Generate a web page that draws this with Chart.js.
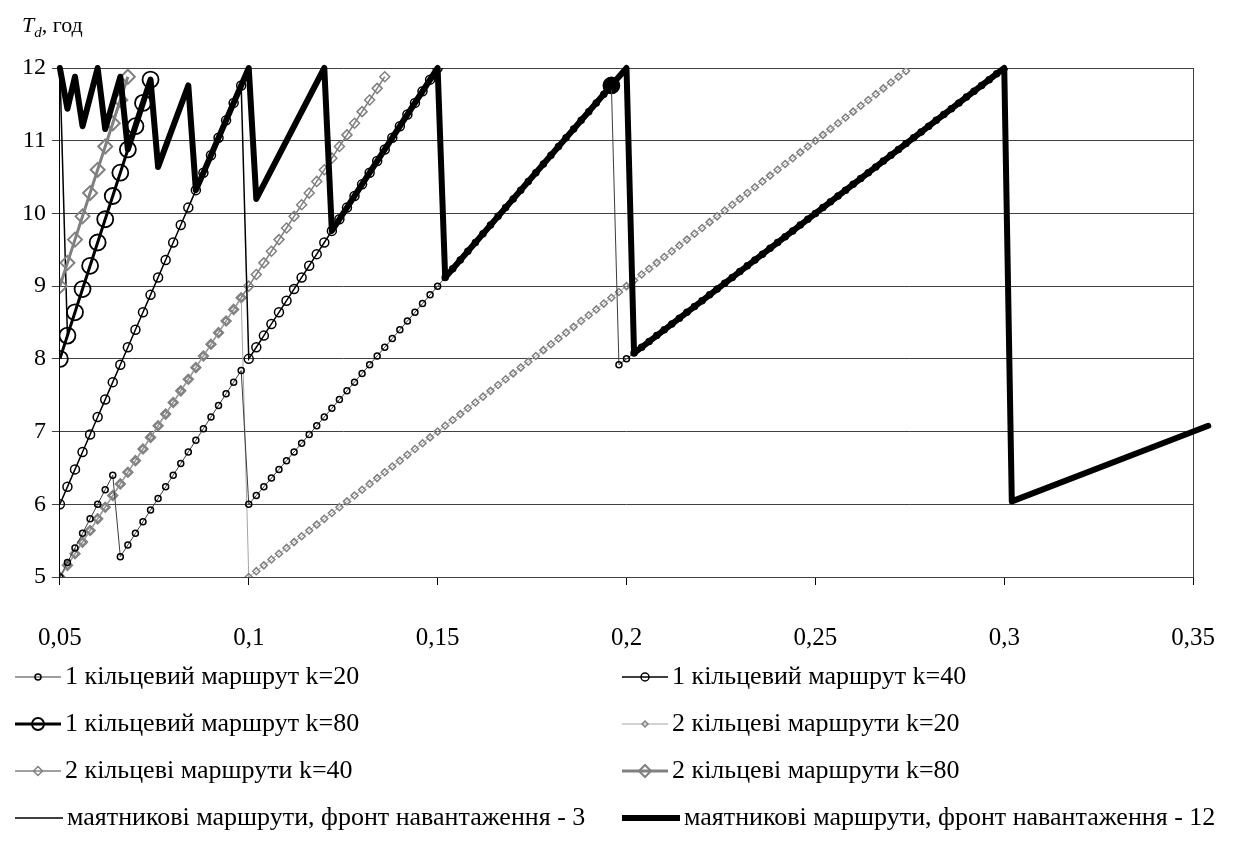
<!DOCTYPE html>
<html lang="uk">
<head>
    <meta charset="UTF-8">
    <title>T_d, год</title>
    <script src="https://cdn.jsdelivr.net/npm/chart.js"></script>
    <style>
        body { margin: 0; background: #fff; }
        #wrap { position: relative; width: 1253px; height: 866px; }
        #ytitle {
            position: absolute; left: 22px; top: 12px;
            font-family: 'Liberation Serif', 'Times New Roman', serif;
            font-size: 22px; color: #000;
        }
        #ytitle sub { font-size: 15px; }
    </style>
</head>
<body>
<div id="wrap">
    <div id="ytitle"><i>T</i><sub><i>d</i></sub>, год</div>
    <canvas id="chart" width="1253" height="866"></canvas>
</div>
<script>
// ---- дані, зчитані з рисунку: [x, Td] ----
const yTicks = [5, 6, 7, 8, 9, 10, 11, 12];
const xTicks = [0.05, 0.1, 0.15, 0.2, 0.25, 0.3, 0.35];

// 1 кільцевий маршрут k=20
const ring1k20 = [
    [.050,5.00],[.052,5.20],[.054,5.40],[.056,5.60],[.058,5.80],[.060,6.00],[.062,6.20],[.064,6.40],
    [.066,5.28],[.068,5.44],[.070,5.60],[.072,5.76],[.074,5.92],[.076,6.08],[.078,6.24],[.080,6.40],
    [.082,6.56],[.084,6.72],[.086,6.88],[.088,7.04],[.090,7.20],[.092,7.36],[.094,7.52],[.096,7.68],[.098,7.84],
    [.100,6.00],[.102,6.12],[.104,6.24],[.106,6.36],[.108,6.48],[.110,6.60],[.112,6.72],[.114,6.84],
    [.116,6.96],[.118,7.08],[.120,7.20],[.122,7.32],[.124,7.44],[.126,7.56],[.128,7.68],[.130,7.80],
    [.132,7.92],[.134,8.04],[.136,8.16],[.138,8.28],[.140,8.40],[.142,8.52],[.144,8.64],[.146,8.76],
    [.148,8.88],[.150,9.00],[.152,9.12],[.154,9.24],[.156,9.36],[.158,9.48],[.160,9.60],[.162,9.72],
    [.164,9.84],[.166,9.96],[.168,10.08],[.170,10.20],[.172,10.32],[.174,10.44],[.176,10.56],[.178,10.68],
    [.180,10.80],[.182,10.92],[.184,11.04],[.186,11.16],[.188,11.28],[.190,11.40],[.192,11.52],[.194,11.64],[.196,11.76],
    [.198,7.92],[.200,8.00],[.202,8.08],[.204,8.16],[.206,8.24],[.208,8.32],[.210,8.40],[.212,8.48],
    [.214,8.56],[.216,8.64],[.218,8.72],[.220,8.80],[.222,8.88],[.224,8.96],[.226,9.04],[.228,9.12],
    [.230,9.20],[.232,9.28],[.234,9.36],[.236,9.44],[.238,9.52],[.240,9.60],[.242,9.68],[.244,9.76],
    [.246,9.84],[.248,9.92],[.250,10.00],[.252,10.08],[.254,10.16],[.256,10.24],[.258,10.32],[.260,10.40],
    [.262,10.48],[.264,10.56],[.266,10.64],[.268,10.72],[.270,10.80],[.272,10.88],[.274,10.96],[.276,11.04],
    [.278,11.12],[.280,11.20],[.282,11.28],[.284,11.36],[.286,11.44],[.288,11.52],[.290,11.60],[.292,11.68],
    [.294,11.76],[.296,11.84],[.298,11.92],[.300,12.00]
];

// 1 кільцевий маршрут k=40
const ring1k40 = [
    [.050,6.00],[.052,6.24],[.054,6.48],[.056,6.72],[.058,6.96],[.060,7.20],[.062,7.44],[.064,7.68],
    [.066,7.92],[.068,8.16],[.070,8.40],[.072,8.64],[.074,8.88],[.076,9.12],[.078,9.36],[.080,9.60],
    [.082,9.84],[.084,10.08],[.086,10.32],[.088,10.56],[.090,10.80],[.092,11.04],[.094,11.28],[.096,11.52],[.098,11.76],
    [.100,8.00],[.102,8.16],[.104,8.32],[.106,8.48],[.108,8.64],[.110,8.80],[.112,8.96],[.114,9.12],
    [.116,9.28],[.118,9.44],[.120,9.60],[.122,9.76],[.124,9.92],[.126,10.08],[.128,10.24],[.130,10.40],
    [.132,10.56],[.134,10.72],[.136,10.88],[.138,11.04],[.140,11.20],[.142,11.36],[.144,11.52],[.146,11.68],
    [.148,11.84],[.150,12.00]
];

// 1 кільцевий маршрут k=80
const ring1k80 = [
    [.050,8.00],[.052,8.32],[.054,8.64],[.056,8.96],[.058,9.28],[.060,9.60],[.062,9.92],[.064,10.24],
    [.066,10.56],[.068,10.88],[.070,11.20],[.072,11.52],[.074,11.84],
    [.150,null],[.196,11.76]
];

// 2 кільцеві маршрути k=20
const ring2k20 = [
    [.050,5.00],[.052,5.16],[.054,5.32],[.056,5.48],[.058,5.64],[.060,5.80],[.062,5.96],[.064,6.12],
    [.066,6.28],[.068,6.44],[.070,6.60],[.072,6.76],[.074,6.92],[.076,7.08],[.078,7.24],[.080,7.40],
    [.082,7.56],[.084,7.72],[.086,7.88],[.088,8.04],[.090,8.20],[.092,8.36],[.094,8.52],[.096,8.68],[.098,8.84],
    [.100,5.00],[.102,5.08],[.104,5.16],[.106,5.24],[.108,5.32],[.110,5.40],[.112,5.48],[.114,5.56],
    [.116,5.64],[.118,5.72],[.120,5.80],[.122,5.88],[.124,5.96],[.126,6.04],[.128,6.12],[.130,6.20],
    [.132,6.28],[.134,6.36],[.136,6.44],[.138,6.52],[.140,6.60],[.142,6.68],[.144,6.76],[.146,6.84],
    [.148,6.92],[.150,7.00],[.152,7.08],[.154,7.16],[.156,7.24],[.158,7.32],[.160,7.40],[.162,7.48],
    [.164,7.56],[.166,7.64],[.168,7.72],[.170,7.80],[.172,7.88],[.174,7.96],[.176,8.04],[.178,8.12],
    [.180,8.20],[.182,8.28],[.184,8.36],[.186,8.44],[.188,8.52],[.190,8.60],[.192,8.68],[.194,8.76],
    [.196,8.84],[.198,8.92],[.200,9.00],[.202,9.08],[.204,9.16],[.206,9.24],[.208,9.32],[.210,9.40],
    [.212,9.48],[.214,9.56],[.216,9.64],[.218,9.72],[.220,9.80],[.222,9.88],[.224,9.96],[.226,10.04],
    [.228,10.12],[.230,10.20],[.232,10.28],[.234,10.36],[.236,10.44],[.238,10.52],[.240,10.60],[.242,10.68],
    [.244,10.76],[.246,10.84],[.248,10.92],[.250,11.00],[.252,11.08],[.254,11.16],[.256,11.24],[.258,11.32],
    [.260,11.40],[.262,11.48],[.264,11.56],[.266,11.64],[.268,11.72],[.270,11.80],[.272,11.88],[.274,11.96]
];

// 2 кільцеві маршрути k=40
const ring2k40 = [
    [.050,5.00],[.052,5.16],[.054,5.32],[.056,5.48],[.058,5.64],[.060,5.80],[.062,5.96],[.064,6.12],
    [.066,6.28],[.068,6.44],[.070,6.60],[.072,6.76],[.074,6.92],[.076,7.08],[.078,7.24],[.080,7.40],
    [.082,7.56],[.084,7.72],[.086,7.88],[.088,8.04],[.090,8.20],[.092,8.36],[.094,8.52],[.096,8.68],
    [.098,8.84],[.100,9.00],[.102,9.16],[.104,9.32],[.106,9.48],[.108,9.64],[.110,9.80],[.112,9.96],
    [.114,10.12],[.116,10.28],[.118,10.44],[.120,10.60],[.122,10.76],[.124,10.92],[.126,11.08],[.128,11.24],
    [.130,11.40],[.132,11.56],[.134,11.72],[.136,11.88]
];

// 2 кільцеві маршрути k=80
const ring2k80 = [
    [.050,9.00],[.052,9.32],[.054,9.64],[.056,9.96],[.058,10.28],[.060,10.60],[.062,10.92],[.064,11.24],
    [.066,11.56],[.068,11.88]
];

// маятникові маршрути, фронт навантаження - 3
const pend3 = [
    [.050,12.00],[.052,8.32]
];

// маятникові маршрути, фронт навантаження - 12
const pend12 = [
    [.050,12.00],[.052,11.44],[.054,11.88],[.056,11.20],[.060,12.00],[.062,11.16],[.066,11.88],[.068,10.88],
    [.074,11.84],[.076,10.64],[.084,11.76],[.086,10.32],[.100,12.00],[.102,10.20],[.120,12.00],[.122,9.76],
    [.150,12.00],[.152,9.12],[.200,12.00],[.202,8.08],[.300,12.00],[.302,6.04],[.354,7.08]
];

const FONT = "'Liberation Serif', 'Times New Roman', serif";

// легенда у два стовпці під графіком
const twoColLegend = {
    id: 'twoColLegend',
    afterDraw(chart) {
        const ctx = chart.ctx;
        const cols = [15, 622];
        const rows = [677, 724, 771, 818];
        chart.data.datasets.forEach((ds, i) => {
            const x0 = cols[i % 2];
            const y = rows[Math.floor(i / 2)];
            const len = ds.legendLen || 46;
            ctx.save();
            ctx.strokeStyle = ds.borderColor;
            ctx.lineWidth = ds.borderWidth;
            ctx.lineCap = 'butt';
            ctx.beginPath();
            ctx.moveTo(x0, y);
            ctx.lineTo(x0 + len, y);
            ctx.stroke();
            if (ds.pointRadius > 0) {
                ctx.fillStyle = 'rgba(0,0,0,0)';
                ctx.strokeStyle = ds.pointBorderColor;
                ctx.lineWidth = ds.pointBorderWidth;
                Chart.helpers.drawPoint(ctx, {
                    pointStyle: ds.pointStyle, radius: ds.legendRadius,
                    borderWidth: ds.pointBorderWidth, rotation: 0
                }, x0 + len / 2, y);
            }
            ctx.fillStyle = '#000';
            ctx.font = '26px ' + FONT;
            ctx.textBaseline = 'middle';
            ctx.textAlign = 'left';
            ctx.fillText(ds.label, x0 + len + 4, y);
            ctx.restore();
        });
    }
};

const ctx = document.getElementById('chart').getContext('2d');
new Chart(ctx, {
    type: 'line',
    data: {
        datasets: [
            {
                label: '1 кільцевий маршрут k=20', data: ring1k20,
                borderColor: '#3c3c3c', borderWidth: 1,
                pointStyle: 'circle', pointRadius: 3, pointBorderWidth: 1.5,
                pointBorderColor: '#000', pointBackgroundColor: 'rgba(0,0,0,0)', legendRadius: 3
            },
            {
                label: '1 кільцевий маршрут k=40', data: ring1k40,
                borderColor: '#000', borderWidth: 1.5,
                pointStyle: 'circle', pointRadius: 4.5, pointBorderWidth: 1.5,
                pointBorderColor: '#000', pointBackgroundColor: 'rgba(0,0,0,0)', legendRadius: 4
            },
            {
                label: '1 кільцевий маршрут k=80', data: ring1k80,
                borderColor: '#000', borderWidth: 3,
                pointStyle: 'circle', pointRadius: 8, pointBorderWidth: 1.8,
                pointBorderColor: '#000',
                pointBackgroundColor: c => (c.raw && c.raw[0] > 0.1) ? '#000' : 'rgba(0,0,0,0)',
                legendRadius: 6
            },
            {
                label: '2 кільцеві маршрути k=20', data: ring2k20,
                borderColor: '#a6a6a6', borderWidth: 1,
                pointStyle: 'rectRot', pointRadius: 3.5, pointBorderWidth: 1.5,
                pointBorderColor: '#808080', pointBackgroundColor: 'rgba(0,0,0,0)', legendRadius: 3
            },
            {
                label: '2 кільцеві маршрути k=40', data: ring2k40,
                borderColor: '#808080', borderWidth: 1.5,
                pointStyle: 'rectRot', pointRadius: 5, pointBorderWidth: 1.5,
                pointBorderColor: '#808080', pointBackgroundColor: 'rgba(0,0,0,0)', legendRadius: 4.5
            },
            {
                label: '2 кільцеві маршрути k=80', data: ring2k80,
                borderColor: '#808080', borderWidth: 3,
                pointStyle: 'rectRot', pointRadius: 7, pointBorderWidth: 2,
                pointBorderColor: '#808080', pointBackgroundColor: 'rgba(0,0,0,0)', legendRadius: 6
            },
            {
                label: 'маятникові маршрути, фронт навантаження - 3', data: pend3,
                borderColor: '#000', borderWidth: 1.5, pointRadius: 0, legendLen: 48
            },
            {
                label: 'маятникові маршрути, фронт навантаження - 12', data: pend12,
                borderColor: '#000', borderWidth: 6, pointRadius: 0,
                borderJoinStyle: 'round', borderCapStyle: 'round',
                order: -1, clip: false, legendLen: 58
            }
        ]
    },
    options: {
        responsive: false,
        animation: false,
        layout: { padding: { top: 68, right: 34, bottom: 214, left: 0 } },
        plugins: { legend: { display: false }, tooltip: { enabled: false } },
        scales: {
            x: {
                type: 'linear', min: 0.05, max: 0.35,
                afterFit: s => { s.height = 75; },
                afterBuildTicks: s => { s.ticks = xTicks.map(v => ({ value: v })); },
                ticks: {
                    color: '#000', padding: 38,
                    font: { family: FONT, size: 25 },
                    callback: v => String(Math.round(v * 100) / 100).replace('.', ',')
                },
                grid: {
                    drawOnChartArea: true, tickLength: 8, tickColor: '#000',
                    color: c => (c.tick && Math.abs(c.tick.value - 0.35) < 1e-6) ? '#404040' : 'rgba(0,0,0,0)'
                },
                border: { color: '#404040', width: 1 }
            },
            y: {
                min: 5, max: 12,
                afterFit: s => { s.width = 58; },
                afterBuildTicks: s => { s.ticks = yTicks.map(v => ({ value: v })); },
                ticks: { color: '#000', padding: 6, font: { family: FONT, size: 24 } },
                grid: { color: '#404040', tickColor: '#404040', tickLength: 8 },
                border: { color: '#000', width: 1 }
            }
        }
    },
    plugins: [twoColLegend]
});
</script>
</body>
</html>
